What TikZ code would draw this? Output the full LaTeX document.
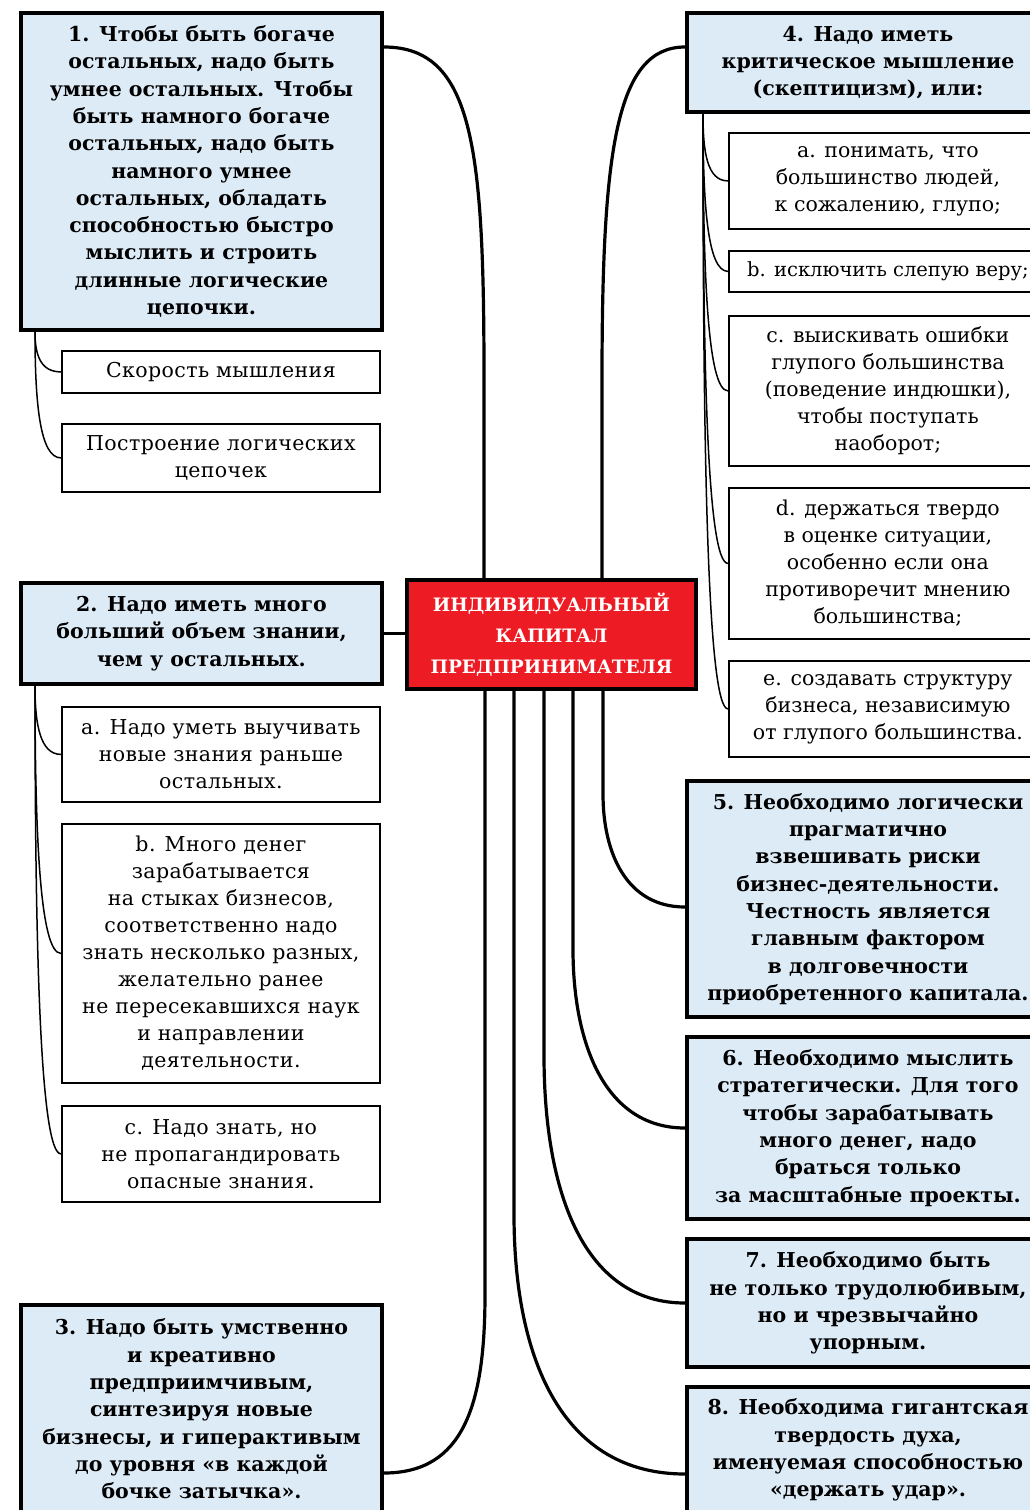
\documentclass[tikz,border=0pt]{standalone}
\usepackage{fontspec}
\setmainfont{DejaVu Serif}
\usetikzlibrary{calc}
\definecolor{boxblue}{RGB}{221,235,247}
\definecolor{cred}{RGB}{237,28,36}
\tikzset{
  mainbox/.style={draw, line width=4pt, fill=boxblue, align=center, inner sep=0pt, anchor=north west,
    font=\bfseries\fontsize{20.5}{27.3}\selectfont},
  subbox/.style={draw, line width=1.8pt, fill=white, align=center, inner sep=0pt, anchor=north west,
    font=\fontsize{20.5}{27}\selectfont, minimum width=318pt},
  subboxw/.style={subbox, font=\fontsize{20.5}{27}\selectfont\addfontfeature{LetterSpace=2}},
  ctrbox/.style={draw, line width=4pt, fill=cred, text=white, align=center, inner sep=0pt, anchor=north west,
    font=\bfseries\fontsize{18.5}{31}\selectfont},
  mainline/.style={line width=3.2pt},
  subline/.style={line width=1.5pt},
}
\begin{document}
\begin{tikzpicture}[x=1pt,y=-1pt]
\clip (0,0) rectangle (1030,1510);
\fill[white] (0,0) rectangle (1030,1510);

% ---------- nodes ----------
\node[ctrbox, minimum width=289pt, minimum height=109pt] (ctr) at (405,578)
  {ИНДИВИДУАЛЬНЫЙ\\КАПИТАЛ\\ПРЕДПРИНИМАТЕЛЯ};

\node[mainbox, minimum width=361pt, minimum height=317pt] (b1) at (19,11)
  {1. Чтобы быть богаче\\остальных, надо быть\\умнее остальных. Чтобы\\быть намного богаче\\остальных, надо быть\\намного умнее\\остальных, обладать\\способностью быстро\\мыслить и строить\\длинные логические\\цепочки.};
\node[subboxw, minimum height=42pt] (s1a) at (61,350) {Скорость мышления};
\node[subboxw, minimum height=68pt] (s1b) at (61,423) {Построение логических\\цепочек};

\node[mainbox, minimum width=361pt, minimum height=101pt] (b2) at (19,581)
  {2. Надо иметь много\\больший объем знании,\\чем у остальных.};
\node[subboxw, minimum height=95pt] (s2a) at (61,706)
  {a. Надо уметь выучивать\\новые знания раньше\\остальных.};
\node[subboxw, minimum height=259pt] (s2b) at (61,823)
  {b. Много денег\\зарабатывается\\на стыках бизнесов,\\соответственно надо\\знать несколько разных,\\желательно ранее\\не пересекавшихся наук\\и направлении\\деятельности.};
\node[subboxw, minimum height=96pt] (s2c) at (61,1105)
  {c. Надо знать, но\\не пропагандировать\\опасные знания.};

\node[mainbox, minimum width=361pt, minimum height=208pt] (b3) at (19,1303)
  {3. Надо быть умственно\\и креативно\\предприимчивым,\\синтезируя новые\\бизнесы, и гиперактивым\\до уровня «в каждой\\бочке затычка».};

\node[mainbox, minimum width=362pt, minimum height=99pt] (b4) at (685,11)
  {4. Надо иметь\\критическое мышление\\(скептицизм), или:};
\node[subbox, minimum height=96pt] (s4a) at (728,132)
  {a. понимать, что\\большинство людей,\\к сожалению, глупо;};
\node[subbox, minimum height=41pt, font=\fontsize{19.5}{27}\selectfont] (s4b) at (728,250)
  {b. исключить слепую веру;};
\node[subbox, minimum height=150pt] (s4c) at (728,315)
  {c. выискивать ошибки\\глупого большинства\\(поведение индюшки),\\чтобы поступать\\наоборот;};
\node[subbox, minimum height=151pt] (s4d) at (728,487)
  {d. держаться твердо\\в оценке ситуации,\\особенно если она\\противоречит мнению\\большинства;};
\node[subbox, minimum height=96pt] (s4e) at (728,660)
  {e. создавать структуру\\бизнеса, независимую\\от глупого большинства.};

\node[mainbox, minimum width=362pt, minimum height=236pt] (b5) at (685,779)
  {5. Необходимо логически\\прагматично\\взвешивать риски\\бизнес-деятельности.\\Честность является\\главным фактором\\в долговечности\\приобретенного капитала.};
\node[mainbox, minimum width=362pt, minimum height=182pt] (b6) at (685,1035)
  {6. Необходимо мыслить\\стратегически. Для того\\чтобы зарабатывать\\много денег, надо\\браться только\\за масштабные проекты.};
\node[mainbox, minimum width=362pt, minimum height=128pt] (b7) at (685,1237)
  {7. Необходимо быть\\не только трудолюбивым,\\но и чрезвычайно\\упорным.};
\node[mainbox, minimum width=362pt, minimum height=126pt] (b8) at (685,1385)
  {8. Необходима гигантская\\твердость духа,\\именуемая способностью\\«держать удар».};

% ---------- main connectors ----------
\draw[mainline] ($(ctr.north west)+(79,0)$) -- ++(0,-198)
  .. controls +(0,-230) and +(90,0) .. ($(b1.north east)+(0,36)$);
\draw[mainline] ($(ctr.north west)+(197,0)$) -- ++(0,-198)
  .. controls +(0,-230) and +(-69,0) .. ($(b4.north west)+(0,36)$);
\draw[mainline] (b2.east) -- (ctr.west |- b2.east);
\draw[mainline] ($(ctr.south west)+(198,0)$) -- ++(0,103)
  .. controls +(0,60) and +(-58,0) .. ($(b5.north west)+(0,128)$);
\draw[mainline] ($(ctr.south west)+(168,0)$) -- ++(0,258)
  .. controls +(0,95) and +(-80,0) .. (b6.west);
\draw[mainline] ($(ctr.south west)+(139,0)$) -- ++(0,364)
  .. controls +(0,140) and +(-100,0) .. (b7.west);
\draw[mainline] ($(ctr.south west)+(109,0)$) -- ++(0,523)
  .. controls +(0,150) and +(-120,0) .. ($(b8.north west)+(0,89)$);
\draw[mainline] ($(ctr.south west)+(80,0)$) -- ++(0,603)
  .. controls +(0,110) and +(80,0) .. ($(b3.north east)+(0,170)$);

% ---------- sub connectors ----------
\draw[subline] ($(b1.south west)+(16,0)$) .. controls +(0,22) and +(-21,0) .. (s1a.west);
\draw[subline] ($(b1.south west)+(16,0)$) .. controls +(0,72) and +(-21,0) .. (s1b.west);
\draw[subline] ($(b2.south west)+(16,0)$) .. controls +(0,38) and +(-21,0) .. (s2a.west);
\draw[subline] ($(b2.south west)+(16,0)$) .. controls +(0,150) and +(-21,0) .. (s2b.west);
\draw[subline] ($(b2.south west)+(16,0)$) .. controls +(0,260) and +(-21,0) .. (s2c.west);
\draw[subline] ($(b4.south west)+(18,0)$) .. controls +(0,38) and +(-21,0) .. (s4a.west);
\draw[subline] ($(b4.south west)+(18,0)$) .. controls +(0,88) and +(-21,0) .. (s4b.west);
\draw[subline] ($(b4.south west)+(18,0)$) .. controls +(0,155) and +(-21,0) .. (s4c.west);
\draw[subline] ($(b4.south west)+(18,0)$) .. controls +(0,250) and +(-21,0) .. (s4d.west);
\draw[subline] ($(b4.south west)+(18,0)$) .. controls +(0,330) and +(-21,0) .. (s4e.west);
\end{tikzpicture}
\end{document}
